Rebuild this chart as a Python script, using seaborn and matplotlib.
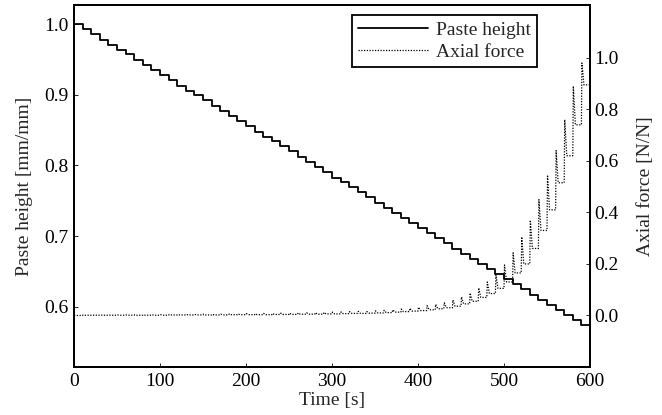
import numpy as np
import pandas as pd
import matplotlib
matplotlib.use("Agg")
import matplotlib.pyplot as plt
import seaborn as sns
from matplotlib.lines import Line2D

# Step times of the piston [s]
step_times = [10, 20, 30, 40, 50, 60, 70, 80, 90, 100,
              110, 120, 130, 140, 150, 160, 170, 180, 190, 200,
              210, 220, 230, 240, 250, 260, 270, 280, 290, 300,
              310, 320, 330, 340, 350, 360, 370, 380, 390, 400,
              410, 420, 430, 440, 450, 460, 470, 480, 490, 500,
              510, 520, 530, 540, 550, 560, 570, 580, 590]

# Paste height held after each step [mm/mm] (first entry is t = 0)
height_levels = [1.000, 0.993, 0.986, 0.978, 0.971, 0.964, 0.957, 0.949, 0.942, 0.935,
                 0.928, 0.921, 0.913, 0.906, 0.899, 0.892, 0.884, 0.877, 0.870, 0.863,
                 0.856, 0.848, 0.841, 0.834, 0.827, 0.820, 0.812, 0.805, 0.798, 0.791,
                 0.783, 0.776, 0.769, 0.762, 0.755, 0.747, 0.740, 0.733, 0.726, 0.718,
                 0.711, 0.704, 0.697, 0.690, 0.682, 0.675, 0.668, 0.661, 0.653, 0.646,
                 0.639, 0.632, 0.625, 0.617, 0.610, 0.603, 0.596, 0.588, 0.581, 0.574]

# Axial force peak right after each step and relaxed value before the next [N/N]
force_peaks = [0.002, 0.002, 0.002, 0.002, 0.002, 0.002, 0.003, 0.003, 0.003, 0.003,
               0.004, 0.004, 0.004, 0.004, 0.005, 0.005, 0.005, 0.006, 0.006, 0.007,
               0.007, 0.008, 0.008, 0.009, 0.009, 0.010, 0.010, 0.011, 0.012, 0.013,
               0.014, 0.015, 0.016, 0.015, 0.018, 0.020, 0.022, 0.025, 0.028, 0.032,
               0.038, 0.043, 0.049, 0.060, 0.072, 0.087, 0.107, 0.130, 0.157, 0.196,
               0.243, 0.305, 0.370, 0.450, 0.545, 0.640, 0.760, 0.890, 0.980]
force_troughs = [0.001, 0.001, 0.001, 0.001, 0.001, 0.001, 0.001, 0.001, 0.001, 0.001,
                 0.002, 0.002, 0.002, 0.002, 0.002, 0.002, 0.002, 0.003, 0.003, 0.003,
                 0.003, 0.003, 0.004, 0.004, 0.004, 0.005, 0.005, 0.005, 0.006, 0.006,
                 0.007, 0.008, 0.008, 0.009, 0.010, 0.011, 0.013, 0.015, 0.017, 0.019,
                 0.022, 0.026, 0.030, 0.036, 0.045, 0.055, 0.070, 0.085, 0.105, 0.130,
                 0.165, 0.200, 0.260, 0.330, 0.410, 0.515, 0.620, 0.740, 0.895]

t_end = 600

x_ticks = [0, 100, 200, 300, 400, 500, 600]
height_ticks = [0.6, 0.7, 0.8, 0.9, 1.0]
force_ticks = [0.0, 0.2, 0.4, 0.6, 0.8, 1.0]

# --- build drawable series -------------------------------------------------
height_df = pd.DataFrame({
    "time": [0] + step_times + [t_end],
    "height": height_levels + [height_levels[-1]],
})

f_time, f_val = [0.0], [0.0]
prev = 0.0
for t0, pk, tr in zip(step_times, force_peaks, force_troughs):
    f_time += [t0, t0 + 0.6, t0 + 3.0]
    f_val += [prev, pk, tr]
    prev = tr
f_time.append(t_end)
f_val.append(prev)
force_df = pd.DataFrame({"time": f_time, "force": f_val})

# --- figure ------------------------------------------------------------------
sns.set_style("ticks")
plt.rcParams["font.family"] = ["Liberation Serif", "DejaVu Serif"]

fig = plt.figure(figsize=(6.62, 4.15), dpi=100)
ax = fig.add_axes([74 / 662, 1 - 367 / 415, (590 - 74) / 662, (367 - 5) / 415])
ax2 = ax.twinx()

dotted = (0, (1, 1.2))
sns.lineplot(data=height_df, x="time", y="height", ax=ax, color="black",
             linewidth=1.3, drawstyle="steps-post", estimator=None, sort=False)
sns.lineplot(data=force_df, x="time", y="force", ax=ax2, color="black",
             linewidth=0.9, linestyle=dotted, estimator=None, sort=False)

ax.set_xlim(0, 600)
ax.set_ylim(0.515, 1.027)
ax2.set_ylim(-0.2, 1.205)

ax.set_xticks(x_ticks)
ax.set_xticklabels([str(v) for v in x_ticks])
ax.set_yticks(height_ticks)
ax.set_yticklabels([f"{v:.1f}" for v in height_ticks])
ax2.set_yticks(force_ticks)
ax2.set_yticklabels([f"{v:.1f}" for v in force_ticks])

fs = 14
ax.set_xlabel("Time [s]", fontsize=fs, labelpad=1.5)
ax.set_ylabel("Paste height [mm/mm]", fontsize=fs, labelpad=8)
ax2.set_ylabel("Axial force [N/N]", fontsize=fs, labelpad=13)

for a in (ax, ax2):
    a.tick_params(direction="in", length=3, width=0.6, labelsize=fs, colors="black")
    for s in a.spines.values():
        s.set_visible(True)
        s.set_linewidth(1.4)
        s.set_color("black")
ax.tick_params(axis="x", pad=4)
ax.tick_params(axis="y", which="both", right=False, pad=4)
ax2.tick_params(axis="y", which="both", left=False, right=True, pad=3)

handles = [
    Line2D([], [], color="black", linewidth=1.3),
    Line2D([], [], color="black", linewidth=0.9, linestyle=dotted),
]
leg = ax.legend(handles, ["Paste height", "Axial force"], loc="upper right",
                bbox_to_anchor=(0.897, 0.972), borderaxespad=0, fontsize=fs,
                frameon=True, fancybox=False, framealpha=1, edgecolor="black",
                handlelength=3.6, handletextpad=0.4, borderpad=0.3, labelspacing=0.25)
leg.get_frame().set_linewidth(1.3)

fig.savefig("out.png", dpi=100)
